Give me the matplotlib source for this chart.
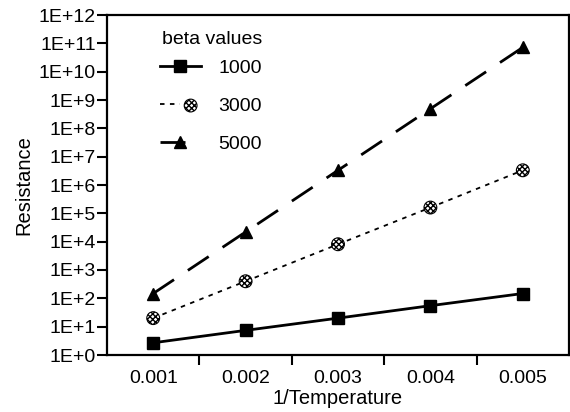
import numpy as np
import matplotlib
matplotlib.use("Agg")
import matplotlib.pyplot as plt
from matplotlib.legend_handler import HandlerTuple

plt.rcParams["font.family"] = ["Liberation Sans", "DejaVu Sans"]

inv_temp = [0.001, 0.002, 0.003, 0.004, 0.005]
beta_labels = ["1000", "3000", "5000"]
r_1000 = [2.7, 7.4, 20, 55, 148]
r_3000 = [20, 400, 8100, 1.6e5, 3.3e6]
r_5000 = [148, 2.2e4, 3.3e6, 4.9e8, 7.2e10]
ytick_exp = list(range(0, 13))

W, H = 570, 412
fig = plt.figure(figsize=(W / 100, H / 100), dpi=100)
ax = fig.add_axes([107 / W, 57 / H, 462 / W, 340 / H])

l1, = ax.plot(inv_temp, r_1000, color="black", lw=2.0, marker="s", ms=9,
              mfc="black", mec="black")
l2, = ax.plot(inv_temp, r_3000, color="black", lw=1.3, dashes=(2.5, 3))
s2 = ax.scatter(inv_temp, r_3000, s=85, marker="o", facecolor="white",
                edgecolor="black", linewidth=0.8, hatch="xxxxxx", zorder=3)
l3, = ax.plot(inv_temp, r_5000, color="black", lw=2.0, dashes=(9, 6),
              marker="^", ms=9, mfc="black", mec="black")

ax.set_yscale("log")
ax.set_ylim(1, 1e12)
ax.set_xlim(0.0005, 0.0055)
ax.set_yticks([10.0 ** k for k in ytick_exp])
ax.set_yticklabels([f"1E+{k}" for k in ytick_exp])
ax.yaxis.set_minor_locator(matplotlib.ticker.NullLocator())
ax.set_xticks(inv_temp)
ax.set_xticklabels([f"{v:.3f}" for v in inv_temp])
ax.set_xticks([0.0015, 0.0025, 0.0035, 0.0045], minor=True)

ax.tick_params(axis="x", which="major", length=0, pad=11, labelsize=14)
ax.tick_params(axis="x", which="minor", length=7, width=1.5, direction="out")
ax.tick_params(axis="y", length=7, width=1.5, direction="out", pad=1,
               labelsize=14)
for sp in ax.spines.values():
    sp.set_linewidth(1.6)

ax.set_xlabel("1/Temperature", fontsize=14.5, labelpad=1)
ax.set_ylabel("Resistance", fontsize=14.5, labelpad=4)

# legend title placed separately so it sits close to the entries
fig.text(162 / W, 1 - 40 / H, "beta values", fontsize=14, va="center",
         ha="left")
ax.legend([l1, (l2, s2), l3], beta_labels,
          handler_map={tuple: HandlerTuple(ndivide=None)},
          loc="upper left", bbox_to_anchor=(160 / W, 1 - 59 / H),
          bbox_transform=fig.transFigure, frameon=False, borderpad=0,
          borderaxespad=0, fontsize=14, handlelength=2.1,
          handletextpad=0.9, labelspacing=1.05)

fig.savefig("out.png", dpi=100)
